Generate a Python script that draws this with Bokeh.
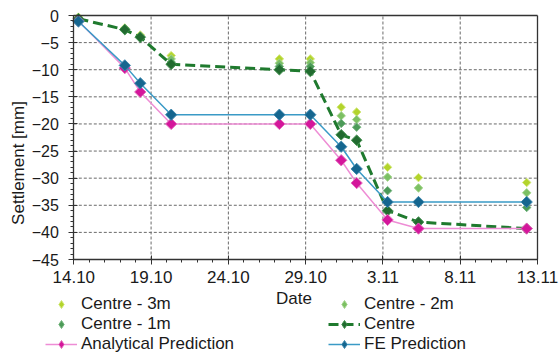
import numpy as np
from bokeh.plotting import figure
from bokeh.models import Range1d, FixedTicker, Legend, LegendItem, Label, LinearAxis
from bokeh.embed import file_html
from bokeh.resources import INLINE

# days after 14.10 (measurement times)
days = [0.3, 3.3, 4.3, 6.3, 13.3, 15.3, 17.3, 18.3, 20.3, 22.3, 29.3]
centre_3m = [-0.3, -2.3, -3.6, -7.4, -8.0, -8.0, -16.9, -17.8, -28.0, -29.9, -30.8]
centre_2m = [-0.4, -2.4, -3.8, -8.0, -8.8, -8.7, -18.5, -19.2, -29.8, -31.8, -32.7]
centre_1m = [-0.5, -2.5, -3.9, -8.6, -9.4, -9.4, -19.9, -20.6, -32.3, -34.4, -35.4]
centre = [-0.6, -2.6, -4.0, -9.0, -10.0, -10.3, -22.0, -23.0, -36.0, -38.1, -39.3]
analytical = [-1.0, -9.7, -14.1, -20.0, -20.0, -20.0, -26.7, -30.9, -37.7, -39.3, -39.3]
fe = [-1.1, -9.2, -12.5, -18.3, -18.3, -18.3, -24.2, -28.3, -34.4, -34.4, -34.4]

tick_days = [0, 5, 10, 15, 20, 25, 30]
tick_labels = ["14.10", "19.10", "24.10", "29.10", "3.11", "8.11", "13.11"]
y_ticks = [0, -5, -10, -15, -20, -25, -30, -35, -40, -45]

X0, X1 = tick_days[0], tick_days[-1]
Y0, Y1 = y_ticks[-1], y_ticks[0]

# canvas layout (pixels): plot area box inside a full-canvas frame
W, H = 560, 358
PX_L, PX_R, PX_T, PX_B = 73.3, 537.0, 15.0, 259.0
sx = (PX_R - PX_L) / (X1 - X0)
sy = (PX_B - PX_T) / (Y1 - Y0)
def dx(px):
    return X0 + (px - PX_L) / sx
def dy(py):
    return Y1 - (py - PX_T) / sy

FONT = "Liberation Sans"
TXT = "#1a1a1a"
BORDER = "#333333"

p = figure(width=W, height=H, output_backend="svg", toolbar_location=None,
           x_range=Range1d(dx(0), dx(W)), y_range=Range1d(dy(H), dy(0)),
           min_border=0, min_border_left=0, min_border_right=0,
           min_border_top=0, min_border_bottom=0)
p.background_fill_color = "white"
p.border_fill_color = "white"
p.outline_line_color = None
p.xgrid.visible = False
p.ygrid.visible = False

# grid lines inside plot box, from the tick lists
gx = tick_days[1:-1]
gy = y_ticks[1:-1]
p.multi_line(xs=[[t, t] for t in gx] + [[X0, X1] for _ in gy],
             ys=[[Y0, Y1] for _ in gx] + [[t, t] for t in gy],
             line_color="#6a6a6a", line_dash="3 2", line_width=1)

# axes
xa = p.xaxis[0]
ya = p.yaxis[0]
xa.fixed_location = Y0
xa.bounds = (X0, X1)
ya.fixed_location = X0
ya.bounds = (Y0, Y1)
xa.ticker = FixedTicker(ticks=tick_days, minor_ticks=list(range(X0, X1 + 1)))
xa.major_label_overrides = {t: l for t, l in zip(tick_days, tick_labels)}
ya.ticker = FixedTicker(ticks=y_ticks, minor_ticks=list(range(Y0, Y1 + 1)))
for ax in (xa, ya):
    ax.axis_line_color = BORDER
    ax.axis_line_width = 1.3
    ax.major_tick_line_color = BORDER
    ax.minor_tick_line_color = BORDER
    ax.major_tick_in = 4
    ax.major_tick_out = 5
    ax.minor_tick_in = 0
    ax.minor_tick_out = 3
    ax.major_label_text_font = FONT
    ax.major_label_text_color = TXT
xa.major_label_text_font_size = "17px"
xa.major_label_standoff = 6
ya.major_label_text_font_size = "16px"
ya.major_label_standoff = 10

# top and right border of the plot box
top_ax = LinearAxis(fixed_location=Y1, bounds=(X0, X1), ticker=FixedTicker(ticks=[]),
                    axis_line_color=BORDER, axis_line_width=1.3,
                    major_tick_line_color=None, minor_tick_line_color=None)
right_ax = LinearAxis(fixed_location=X1, bounds=(Y0, Y1), ticker=FixedTicker(ticks=[]),
                      axis_line_color=BORDER, axis_line_width=1.3,
                      major_tick_line_color=None, minor_tick_line_color=None)
p.add_layout(top_ax, "above")
p.add_layout(right_ax, "right")

ang = np.pi / 4
styles = {
    "Centre - 3m": dict(fill_color="#b3d42c", line_color="#d2e879"),
    "Centre - 2m": dict(fill_color="#7cc063", line_color="#a6d690"),
    "Centre - 1m": dict(fill_color="#4c9a58", line_color="#75b67f"),
    "Centre": dict(fill_color="#226b30", line_color="#3f8f4c"),
    "Analytical Prediction": dict(fill_color="#d4169b", line_color="#e46cbd"),
    "FE Prediction": dict(fill_color="#15668f", line_color="#3f88ae"),
}

def series(name, ys, size):
    # diamond glyph (used for the legend icon) lying beneath the rotated-square marker
    icon = p.scatter(days, ys, marker="diamond", size=size * 0.8, line_width=1,
                     **styles[name])
    mark = p.scatter(days, ys, marker="square", angle=ang, size=size, line_width=1,
                     **styles[name])
    return icon, mark

i3, r3 = series("Centre - 3m", centre_3m, 6)
i2, r2 = series("Centre - 2m", centre_2m, 6)
i1, r1 = series("Centre - 1m", centre_1m, 6)
rcl = p.line(days, centre, line_color="#1f7a2e", line_width=3, line_dash="10 5")
ic, rcs = series("Centre", centre, 7.5)
ral = p.line(days, analytical, line_color="#ee8dd5", line_width=1.5)
ia, ras = series("Analytical Prediction", analytical, 8)
rfl = p.line(days, fe, line_color="#3a9ac6", line_width=1.5)
i_fe, rfs = series("FE Prediction", fe, 8)

legend = Legend(items=[
    LegendItem(label="Centre - 3m", renderers=[i3]),
    LegendItem(label="Centre - 2m", renderers=[i2]),
    LegendItem(label="Centre - 1m", renderers=[i1]),
    LegendItem(label="Centre", renderers=[rcl, ic]),
    LegendItem(label="Analytical Prediction", renderers=[ral, ia]),
    LegendItem(label="FE Prediction", renderers=[rfl, i_fe]),
], location=(45, 4), orientation="horizontal", ncols=2,
    padding=0, margin=0, spacing=0, border_line_color=None,
    background_fill_alpha=0, glyph_width=32, glyph_height=20,
    label_height=20, label_width=247, label_standoff=4,
    label_text_font=FONT, label_text_font_size="17px", label_text_color=TXT)
p.add_layout(legend, "center")

p.add_layout(Label(x=dx(293.4), y=dy(297.5), text="Date", text_align="center",
                   text_baseline="middle", text_font=FONT, text_font_size="17px",
                   text_color=TXT))
p.add_layout(Label(x=dx(17.5), y=dy(162.5), text="Settlement [mm]", angle=np.pi / 2,
                   text_align="center", text_baseline="middle", text_font=FONT,
                   text_font_size="17px", text_color=TXT))

open("out.html", "w").write(file_html(p, INLINE))
